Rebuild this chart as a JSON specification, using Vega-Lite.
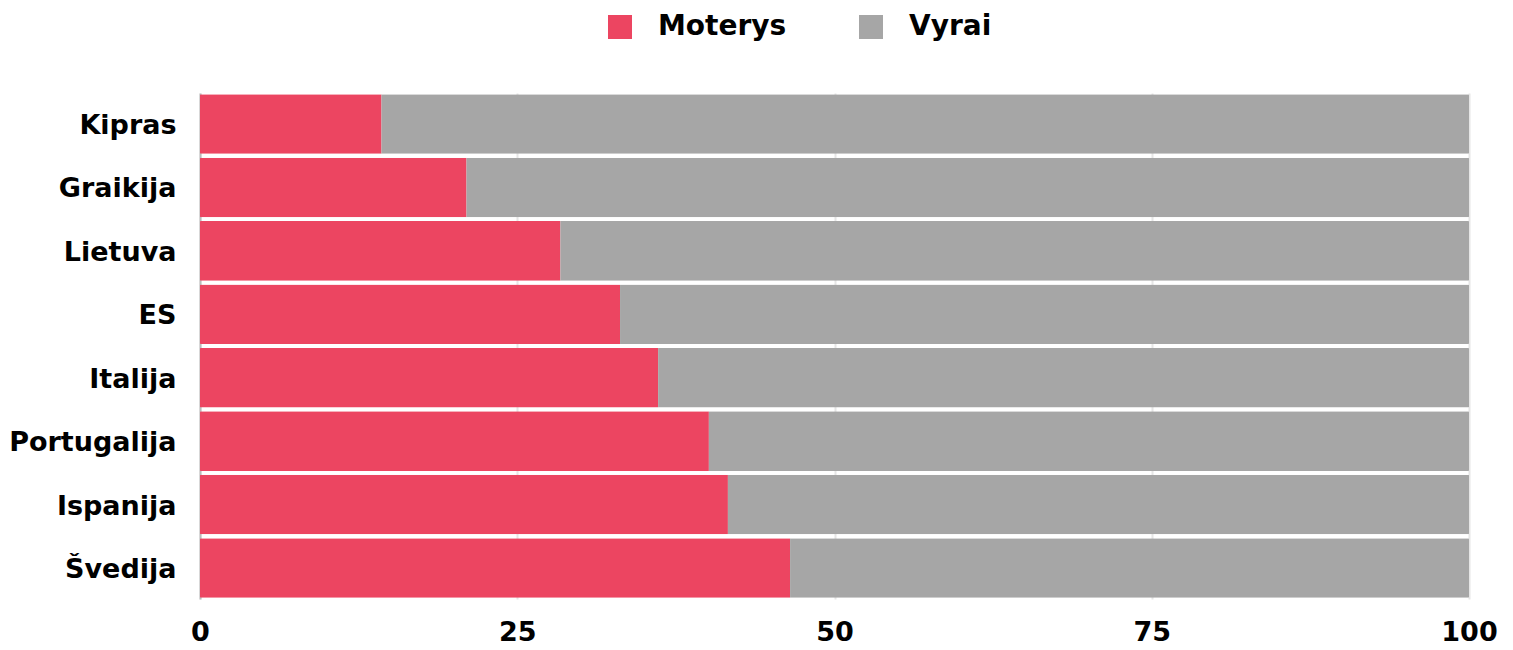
{
  "$schema": "https://vega.github.io/schema/vega-lite/v6.json",
  "width": 1269,
  "height": 506,
  "autosize": {"type": "none"},
  "padding": {"left": 200, "top": 93, "right": 44, "bottom": 51},
  "background": "white",
  "config": {
    "font": "DejaVu Sans",
    "view": {"stroke": null}
  },
  "data": {
    "values": [
      {"salis": "Kipras", "lytis": "Moterys", "proc": 14.3},
      {"salis": "Kipras", "lytis": "Vyrai", "proc": 85.7},
      {"salis": "Graikija", "lytis": "Moterys", "proc": 21.0},
      {"salis": "Graikija", "lytis": "Vyrai", "proc": 79.0},
      {"salis": "Lietuva", "lytis": "Moterys", "proc": 28.4},
      {"salis": "Lietuva", "lytis": "Vyrai", "proc": 71.6},
      {"salis": "ES", "lytis": "Moterys", "proc": 33.1},
      {"salis": "ES", "lytis": "Vyrai", "proc": 66.9},
      {"salis": "Italija", "lytis": "Moterys", "proc": 36.1},
      {"salis": "Italija", "lytis": "Vyrai", "proc": 63.9},
      {"salis": "Portugalija", "lytis": "Moterys", "proc": 40.1},
      {"salis": "Portugalija", "lytis": "Vyrai", "proc": 59.9},
      {"salis": "Ispanija", "lytis": "Moterys", "proc": 41.6},
      {"salis": "Ispanija", "lytis": "Vyrai", "proc": 58.4},
      {"salis": "Švedija", "lytis": "Moterys", "proc": 46.5},
      {"salis": "Švedija", "lytis": "Vyrai", "proc": 53.5}
    ]
  },
  "mark": {"type": "bar", "cornerRadius": 1},
  "encoding": {
    "y": {
      "field": "salis",
      "type": "nominal",
      "sort": null,
      "scale": {"paddingInner": 0.06, "paddingOuter": 0.02},
      "axis": {
        "title": null,
        "domain": true,
        "domainColor": "#bbbbbb",
        "domainWidth": 2,
        "ticks": false,
        "labelFontSize": 27,
        "labelFontWeight": "bold",
        "labelColor": "#000000",
        "labelPadding": 24,
        "labelOffset": 2
      }
    },
    "x": {
      "field": "proc",
      "type": "quantitative",
      "stack": "zero",
      "scale": {"domain": [0, 100], "nice": false},
      "axis": {
        "title": null,
        "values": [0, 25, 50, 75, 100],
        "domain": false,
        "ticks": false,
        "grid": true,
        "gridColor": "#e6e6e6",
        "gridWidth": 2,
        "labelFontSize": 27,
        "labelFontWeight": "bold",
        "labelColor": "#000000",
        "labelPadding": 20,
        "labelFlush": false
      }
    },
    "color": {
      "field": "lytis",
      "type": "nominal",
      "scale": {"domain": ["Moterys", "Vyrai"], "range": ["#EC4561", "#A6A6A6"]},
      "legend": {
        "title": null,
        "orient": "none",
        "direction": "horizontal",
        "legendX": 406,
        "legendY": -80,
        "symbolType": "square",
        "symbolSize": 576,
        "symbolStrokeWidth": 0,
        "labelFontSize": 28,
        "labelFontWeight": "bold",
        "labelColor": "#000000",
        "labelOffset": 24,
        "columnPadding": 70
      }
    }
  }
}
